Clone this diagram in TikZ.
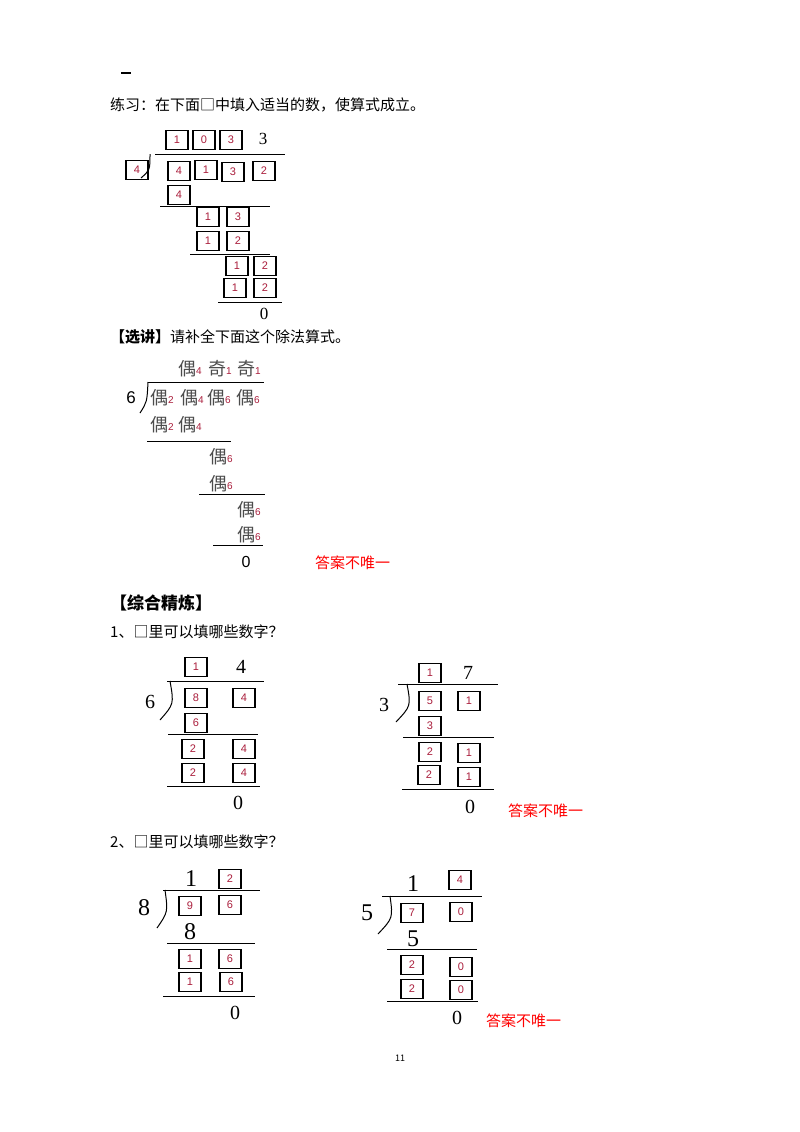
\documentclass[tikz,border=0pt]{standalone}
\usepackage{fontspec}
\setmainfont{Liberation Serif}
\newfontfamily\cjk{Noto Sans CJK SC}
\newfontfamily\arl{Liberation Sans}
\definecolor{dred}{RGB}{170,30,60}
\begin{document}
\begin{tikzpicture}[x=1pt,y=-1pt,
  dbox/.style={draw,line width=1.3pt,minimum width=22pt,minimum height=19pt,inner sep=0pt,text=dred,font=\arl\fontsize{11}{11}\selectfont},
  num/.style={inner sep=0pt,font=\fontsize{20}{20}\selectfont},
  snum/.style={inner sep=0pt,font=\fontsize{17}{17}\selectfont},
  txt/.style={inner sep=0pt,anchor=west,font=\cjk\fontsize{15}{16}\selectfont},
  ans/.style={inner sep=0pt,anchor=west,text=red,font=\cjk\fontsize{15}{16}\selectfont},
  ou/.style={inner sep=0pt,font=\cjk\fontsize{18}{18}\selectfont\color{black!70}},
  rline/.style={line width=1pt},
  brk/.style={line width=1pt}]
\useasboundingbox (0,0) rectangle (800,1132);
\fill[white] (0,0) rectangle (800,1132);
\draw[line width=1pt] (121,73) -- (131,73);
\node[txt] (t1) at (110,105) {练习：在下面□中填入适当的数，使算式成立。};
% puzzle 1
\node[dbox] (a1) at (177,140) {1};
\node[dbox] (a2) at (204,140) {0};
\node[dbox] (a3) at (231,140) {3};
\node[snum] (a4) at (263,139) {3};
\draw[rline] (155,154) -- (285,154);
\node[dbox] (a5) at (137,170) {4};
\draw[brk] (150,154) .. controls (150,170) .. (141,178);
\node[dbox] (a6) at (179,171) {4};
\node[dbox] (a7) at (206,170) {1};
\node[dbox] (a8) at (233,172) {3};
\node[dbox] (a9) at (264,171) {2};
\node[dbox] (a10) at (179,195) {4};
\draw[rline] (160,206) -- (270,206);
\node[dbox] (a11) at (208,217) {1};
\node[dbox] (a12) at (238,217) {3};
\node[dbox] (a13) at (208,241) {1};
\node[dbox] (a14) at (238,241) {2};
\draw[rline] (190,254) -- (270,254);
\node[dbox] (a15) at (237,266) {1};
\node[dbox] (a16) at (265,266) {2};
\node[dbox] (a17) at (235,288) {1};
\node[dbox] (a18) at (265,288) {2};
\draw[rline] (218,302) -- (282,302);
\node[snum] (a19) at (264,314) {0};
% selected
\node[txt] (t2) at (110,337) {\textbf{【选讲】}请补全下面这个除法算式。};
\newcommand\ouX[1]{偶\raisebox{1pt}{\textcolor{dred}{\arl\fontsize{10}{10}\selectfont #1}}}
\newcommand\qiX[1]{奇\raisebox{1pt}{\textcolor{dred}{\arl\fontsize{10}{10}\selectfont #1}}}
\node[ou] (b1) at (190,369) {\ouX{4}};
\node[ou] (b2) at (220,369) {\qiX{1}};
\node[ou] (b3) at (249,369) {\qiX{1}};
\draw[rline] (148,382) -- (264,382);
\node[inner sep=0pt,font=\arl\fontsize{17}{17}\selectfont] (b4) at (131,398) {6};
\draw[brk] (148,382) .. controls (147,402) .. (140,413);
\node[ou] (b5) at (162,398) {\ouX{2}};
\node[ou] (b6) at (192,398) {\ouX{4}};
\node[ou] (b7) at (219,398) {\ouX{6}};
\node[ou] (b8) at (248,398) {\ouX{6}};
\node[ou] (b9) at (162,425) {\ouX{2}};
\node[ou] (b10) at (190,425) {\ouX{4}};
\draw[rline] (147,441) -- (231,441);
\node[ou] (b11) at (221,457) {\ouX{6}};
\node[ou] (b12) at (221,484) {\ouX{6}};
\draw[rline] (199,494) -- (265,494);
\node[ou] (b13) at (249,510) {\ouX{6}};
\node[ou] (b14) at (249,535) {\ouX{6}};
\draw[rline] (213,545) -- (263,545);
\node[inner sep=0pt,font=\arl\fontsize{16}{16}\selectfont] (b15) at (246,562) {0};
\node[ans] (b16) at (315,563) {答案不唯一};
% section
\node[txt,font=\cjk\bfseries\fontsize{17}{18}\selectfont] (t3) at (110,603) {【综合精炼】};
\node[txt] (t4) at (110,632) {1、□里可以填哪些数字？};
% puzzle 3
\node[dbox] (c1) at (196,667) {1};
\node[num] (c2) at (241,667) {4};
\draw[rline] (167,681) -- (264,681);
\node[num] (c3) at (150,702) {6};
\draw[brk] (170,681) .. controls (174,704) .. (160,720);
\node[dbox] (c4) at (196,698) {8};
\node[dbox] (c5) at (244,698) {4};
\node[dbox] (c6) at (196,723) {6};
\draw[rline] (168,734) -- (258,734);
\node[dbox] (c7) at (193,749) {2};
\node[dbox] (c8) at (244,749) {4};
\node[dbox] (c9) at (193,773) {2};
\node[dbox] (c10) at (244,773) {4};
\draw[rline] (167,786) -- (260,786);
\node[num] (c11) at (238,803) {0};
% puzzle 4
\node[dbox] (d1) at (430,673) {1};
\node[num] (d2) at (468,673) {7};
\draw[rline] (398,684) -- (498,684);
\node[num] (d3) at (384,705) {3};
\draw[brk] (407,684) .. controls (411,706) .. (396,722);
\node[dbox] (d4) at (430,701) {5};
\node[dbox] (d5) at (469,701) {1};
\node[dbox] (d6) at (430,726) {3};
\draw[rline] (403,737) -- (494,737);
\node[dbox] (d7) at (430,752) {2};
\node[dbox] (d8) at (469,753) {1};
\node[dbox] (d9) at (429,775) {2};
\node[dbox] (d10) at (469,777) {1};
\draw[rline] (402,789) -- (494,789);
\node[num] (d11) at (470,807) {0};
\node[ans] (d12) at (508,811) {答案不唯一};
\node[txt] (t5) at (110,842) {2、□里可以填哪些数字？};
% puzzle 5
\node[num,font=\fontsize{24}{24}\selectfont] (e1) at (191,879) {1};
\node[dbox] (e2) at (230,879) {2};
\draw[rline] (163,890) -- (260,890);
\node[num,font=\fontsize{24}{24}\selectfont] (e3) at (144,908) {8};
\draw[brk] (165,890) .. controls (168,912) .. (157,928);
\node[dbox] (e4) at (190,906) {9};
\node[dbox] (e5) at (230,905) {6};
\node[num,font=\fontsize{24}{24}\selectfont] (e6) at (190,932) {8};
\draw[rline] (167,943) -- (255,943);
\node[dbox] (e7) at (190,959) {1};
\node[dbox] (e8) at (230,959) {6};
\node[dbox] (e9) at (190,982) {1};
\node[dbox] (e10) at (231,982) {6};
\draw[rline] (163,996) -- (255,996);
\node[num] (e11) at (235,1013) {0};
% puzzle 6
\node[num,font=\fontsize{24}{24}\selectfont] (f1) at (413,884) {1};
\node[dbox] (f2) at (460,880) {4};
\draw[rline] (382,896) -- (482,896);
\node[num,font=\fontsize{24}{24}\selectfont] (f3) at (367,913) {5};
\draw[brk] (390,896) .. controls (393,918) .. (378,934);
\node[dbox] (f4) at (412,913) {7};
\node[dbox] (f5) at (461,912) {0};
\node[num,font=\fontsize{24}{24}\selectfont] (f6) at (413,939) {5};
\draw[rline] (387,949) -- (477,949);
\node[dbox] (f7) at (412,965) {2};
\node[dbox] (f8) at (461,967) {0};
\node[dbox] (f9) at (412,989) {2};
\node[dbox] (f10) at (461,990) {0};
\draw[rline] (387,1001) -- (478,1001);
\node[num] (f11) at (457,1018) {0};
\node[ans] (f12) at (486,1021) {答案不唯一};
\node[inner sep=0pt,font=\cjk\fontsize{9}{9}\selectfont] (pg) at (400,1058) {11};
\end{tikzpicture}
\end{document}
